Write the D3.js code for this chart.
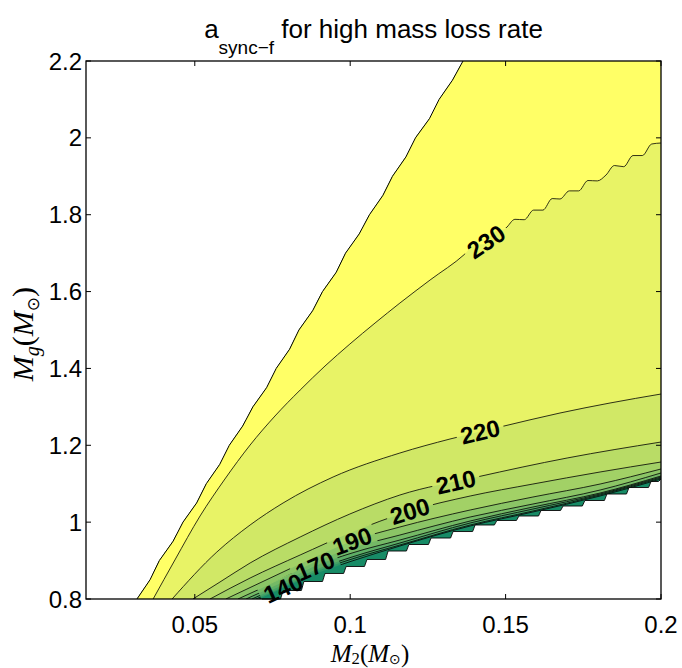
<!DOCTYPE html>
<html><head><meta charset="utf-8">
<script src="https://cdn.jsdelivr.net/npm/d3@7"></script>
<style>body{margin:0;background:#fff}svg{display:block}</style>
</head><body>
<svg id="chart" width="682" height="668"></svg>
<script>
// ---------- data ----------
const levels = [140, 150, 160, 170, 180, 190, 200, 210, 220, 230];
const xTicks = [0.05, 0.1, 0.15, 0.2];
const xTickLabels = ["0.05", "0.1", "0.15", "0.2"];
const yTicks = [0.8, 1, 1.2, 1.4, 1.6, 1.8, 2, 2.2];
const yTickLabels = ["0.8", "1", "1.2", "1.4", "1.6", "1.8", "2", "2.2"];

// ragged left edge of the computed domain (M2, Mg)
const leftEdge = [[0.0314,0.80],[0.0356,0.85],[0.0386,0.90],[0.0430,0.95],[0.0462,1.00],[0.0506,1.05],[0.0537,1.10],[0.0580,1.15],[0.0611,1.20],[0.0654,1.25],[0.0687,1.30],[0.0731,1.35],[0.0762,1.40],[0.0805,1.45],[0.0835,1.50],[0.0879,1.55],[0.0911,1.60],[0.0955,1.65],[0.0985,1.70],[0.1029,1.75],[0.1062,1.80],[0.1105,1.85],[0.1136,1.90],[0.1179,1.95],[0.1210,2.00],[0.1255,2.05],[0.1286,2.10],[0.1329,2.15],[0.1363,2.20]];
// stair-shaped lower-right edge of the computed domain
const stairM2 = [0.0716,0.0784,0.0851,0.0919,0.0987,0.1054,0.1122,0.1189,0.1260,0.1331,0.1402,0.1472,0.1543,0.1614,0.1685,0.1755,0.1826,0.1897,0.1968,0.2000];
const stairMg = [0.8000,0.8221,0.8455,0.8664,0.8846,0.9028,0.9249,0.9418,0.9587,0.9756,0.9926,1.0043,1.0160,1.0303,1.0420,1.0563,1.0732,1.0901,1.1058,1.1123];

// contour lines (M2, Mg)
const c230 = [[0.0366,0.8],[0.0436,0.9015],[0.0517,1.0160],[0.0597,1.1123],[0.0678,1.2007],[0.0758,1.2762],[0.0839,1.3438],[0.0919,1.4063],[0.0999,1.4635],[0.1080,1.5182],[0.1160,1.5702],[0.1257,1.6301],[0.1369,1.6977],[0.1400,1.7216],[0.1430,1.7230],[0.1460,1.7535],[0.1501,1.7654],[0.1530,1.7880],[0.1560,1.7870],[0.1590,1.8120],[0.1620,1.8120],[0.1650,1.8420],[0.1675,1.8409],[0.1705,1.8620],[0.1735,1.8620],[0.1765,1.8890],[0.1795,1.8880],[0.1823,1.9033],[0.1850,1.9280],[0.1880,1.9250],[0.1910,1.9540],[0.1940,1.9540],[0.1970,1.9840],[0.2,1.9866]];
const c220 = [[0.0427,0.8],[0.0571,0.9223],[0.0678,0.9926],[0.0784,1.0498],[0.0945,1.1175],[0.1160,1.1799],[0.1321,1.2163],[0.1482,1.2476],[0.1675,1.2840],[0.1836,1.3100],[0.2,1.3334]];
const c210 = [[0.0494,0.8],[0.0581,0.8442],[0.0678,0.8937],[0.0839,0.9613],[0.0999,1.0212],[0.1160,1.0706],[0.1408,1.1175],[0.1698,1.1669],[0.2,1.2085]];
const c200 = [[0.0549,0.8],[0.0678,0.8546],[0.0839,0.9145],[0.0999,0.9717],[0.1192,1.0290],[0.1386,1.0680],[0.1588,1.0992],[0.1804,1.1305],[0.2,1.1565]];
const c190 = [[0.0600,0.8],[0.0784,0.8703],[0.0887,0.9093],[0.1006,0.9509],[0.1160,0.9874],[0.1386,1.0316],[0.1588,1.0654],[0.1804,1.0992],[0.2,1.1383]];
const c180 = [[0.0639,0.8],[0.0784,0.8546],[0.0887,0.8963],[0.1006,0.9327],[0.1160,0.9665],[0.1386,1.0134],[0.1588,1.0472],[0.1804,1.0836],[0.2,1.1279]];
const c170 = [[0.0665,0.8],[0.0784,0.8442],[0.0887,0.8859],[0.1006,0.9197],[0.1160,0.9535],[0.1386,1.0030],[0.1588,1.0394],[0.1804,1.0758],[0.2,1.1201]];
const c160 = [[0.0684,0.8],[0.0784,0.8364],[0.0887,0.8755],[0.1006,0.9093],[0.1160,0.9457],[0.1386,0.9978],[0.1588,1.0342],[0.1804,1.0732],[0.2,1.1175]];
const c150 = [[0.0697,0.8],[0.0784,0.8312],[0.0887,0.8703],[0.1006,0.9041],[0.1160,0.9405],[0.1386,0.9926],[0.1588,1.0290],[0.1804,1.0706],[0.2,1.1149]];
const c140 = [[0.0707,0.8],[0.0784,0.8286],[0.0887,0.8651],[0.1006,0.8989],[0.1160,0.9379],[0.1386,0.9900],[0.1588,1.0264],[0.1804,1.0680],[0.2,1.1123]];

const labelLevels = [140, 170, 190, 200, 210, 220, 230];
const labelM2 = [0.0784, 0.0887, 0.1006, 0.1192, 0.1340, 0.1418, 0.1437];

// ---------- drawing ----------
const contours = {140:c140,150:c150,160:c160,170:c170,180:c180,190:c190,200:c200,210:c210,220:c220,230:c230};
const X0 = 0.015, X1 = 0.2, Y0 = 0.8, Y1 = 2.2;
const x = d3.scaleLinear().domain([X0, X1]).range([86, 661]);
const y = d3.scaleLinear().domain([Y0, Y1]).range([599, 61]);
// MATLAB "summer" colormap
const summer = t => d3.rgb(255 * t, 255 * (0.5 + 0.5 * t), 102).formatHex();
const tOf = d3.scaleLinear().domain([120, 230]).range([0, 1]).clamp(true);

const svg = d3.select("#chart");
svg.append("rect").attr("width", 682).attr("height", 668).attr("fill", "#fff");
const defs = svg.append("defs");
const line = d3.line().x(d => x(d[0])).y(d => y(d[1]));
const smooth = d3.line().x(d => x(d[0])).y(d => y(d[1])).curve(d3.curveMonotoneX);

// domain polygon
const stairPts = [];
for (let i = 0; i < stairM2.length; i++) {
  stairPts.push([stairM2[i], stairMg[i]]);
  if (i < stairM2.length - 1) stairPts.push([stairM2[i + 1] - 0.0008, stairMg[i]]);
}
const domainPoly = leftEdge.concat([[X1, Y1]], stairPts.slice().reverse());
defs.append("clipPath").attr("id", "dom").append("path").attr("d", line(domainPoly) + "Z");

// label geometry
function interp(pts, mx) {
  let k = 0;
  while (k < pts.length - 2 && pts[k + 1][0] < mx) k++;
  const a = pts[k], b = pts[k + 1];
  const f = (mx - a[0]) / (b[0] - a[0]);
  return a[1] + f * (b[1] - a[1]);
}
const labels = labelLevels.map((L, i) => {
  const pts = contours[L], mx = labelM2[i];
  const my = interp(pts, mx);
  const d = 0.008;
  const ang = Math.atan2(y(interp(pts, mx + d)) - y(interp(pts, mx - d)), x(mx + d) - x(mx - d)) * 180 / Math.PI;
  return {L, px: x(mx), py: y(my), ang};
});
const mask = defs.append("mask").attr("id", "lblmask").attr("maskUnits", "userSpaceOnUse")
  .attr("x", 0).attr("y", 0).attr("width", 682).attr("height", 668);
mask.append("rect").attr("width", 682).attr("height", 668).attr("fill", "#fff");
labels.forEach(l => {
  mask.append("rect").attr("x", -24).attr("y", -10).attr("width", 48).attr("height", 20)
    .attr("fill", "#000").attr("transform", `translate(${l.px},${l.py}) rotate(${l.ang})`);
});

const plot = svg.append("g").attr("clip-path", "url(#dom)");
plot.append("path").attr("d", line(domainPoly) + "Z").attr("fill", summer(tOf(130)));
levels.forEach(L => {
  const rest = [[X1, Y1], [X0, Y1], [X0, Y0]].map(p => "L" + x(p[0]) + "," + y(p[1])).join("");
  plot.append("path").attr("d", smooth(contours[L]) + rest + "Z").attr("fill", summer(tOf(L)));
});
const lines = plot.append("g").attr("mask", "url(#lblmask)");
levels.forEach(L => {
  lines.append("path").attr("d", smooth(contours[L])).attr("fill", "none")
    .attr("stroke", "#000").attr("stroke-width", 0.8);
});
// domain boundary outlines
svg.append("path").attr("d", line(leftEdge)).attr("fill", "none").attr("stroke", "#000").attr("stroke-width", 1);
svg.append("path").attr("d", line(stairPts)).attr("fill", "none").attr("stroke", "#000").attr("stroke-width", 0.9);

// contour labels
labels.forEach(l => {
  svg.append("text").attr("transform", `translate(${l.px},${l.py}) rotate(${l.ang})`)
    .attr("text-anchor", "middle").attr("dy", "0.36em")
    .style("font", "bold 24px 'Liberation Sans', Arial, sans-serif")
    .text(l.L);
});

// axes box + ticks
const ax = svg.append("g");
ax.append("rect").attr("x", 86).attr("y", 61).attr("width", 575).attr("height", 538)
  .attr("fill", "none").attr("stroke", "#000").attr("stroke-width", 1.3);
const tl = 5;
xTicks.forEach((t, i) => {
  ax.append("line").attr("x1", x(t)).attr("x2", x(t)).attr("y1", 599).attr("y2", 599 - tl).attr("stroke", "#000");
  ax.append("line").attr("x1", x(t)).attr("x2", x(t)).attr("y1", 61).attr("y2", 61 + tl).attr("stroke", "#000");
  ax.append("text").attr("x", x(t)).attr("y", 633).attr("text-anchor", "middle")
    .style("font", "24px 'Liberation Sans', Arial, sans-serif").text(xTickLabels[i]);
});
yTicks.forEach((t, i) => {
  ax.append("line").attr("x1", 86).attr("x2", 86 + tl).attr("y1", y(t)).attr("y2", y(t)).attr("stroke", "#000");
  ax.append("line").attr("x1", 661).attr("x2", 661 - tl).attr("y1", y(t)).attr("y2", y(t)).attr("stroke", "#000");
  ax.append("text").attr("x", 82).attr("y", y(t)).attr("dy", "0.36em").attr("text-anchor", "end")
    .style("font", "24px 'Liberation Sans', Arial, sans-serif").text(yTickLabels[i]);
});

// title
const title = svg.append("text").attr("x", 373.5).attr("y", 38).attr("text-anchor", "middle")
  .style("font", "26px 'Liberation Sans', Arial, sans-serif").style("white-space", "pre");
title.append("tspan").text("a");
title.append("tspan").attr("dy", 16).style("font-size", "19px").text("sync\u2212f");
title.append("tspan").attr("dy", -16).text(" for high mass loss rate");

// axis labels (math style)
function mathLabel(g, sub, fs, sh) {
  const f = "'Liberation Serif', 'DejaVu Serif', serif";
  const s = fs / 30;
  g.style("font-family", f).style("font-size", fs + "px");
  g.append("tspan").style("font-style", "italic").text("M");
  g.append("tspan").attr("dy", sh).style("font-size", (20 * s) + "px").style("font-style", sub === "g" ? "italic" : "normal").text(sub);
  g.append("tspan").attr("dy", -sh).text("(");
  g.append("tspan").style("font-style", "italic").text("M");
  g.append("tspan").attr("dy", sh).style("font-size", (17 * s) + "px").style("font-family", "'DejaVu Sans', sans-serif").text("\u2299");
  g.append("tspan").attr("dy", -sh).text(")");
}
mathLabel(svg.append("text").attr("x", 370).attr("y", 661.5).attr("text-anchor", "middle"), "2", 25, 2.5);
mathLabel(svg.append("text").attr("transform", "translate(33,334) rotate(-90)").attr("text-anchor", "middle"), "g", 30, 6);
</script>
</body></html>
